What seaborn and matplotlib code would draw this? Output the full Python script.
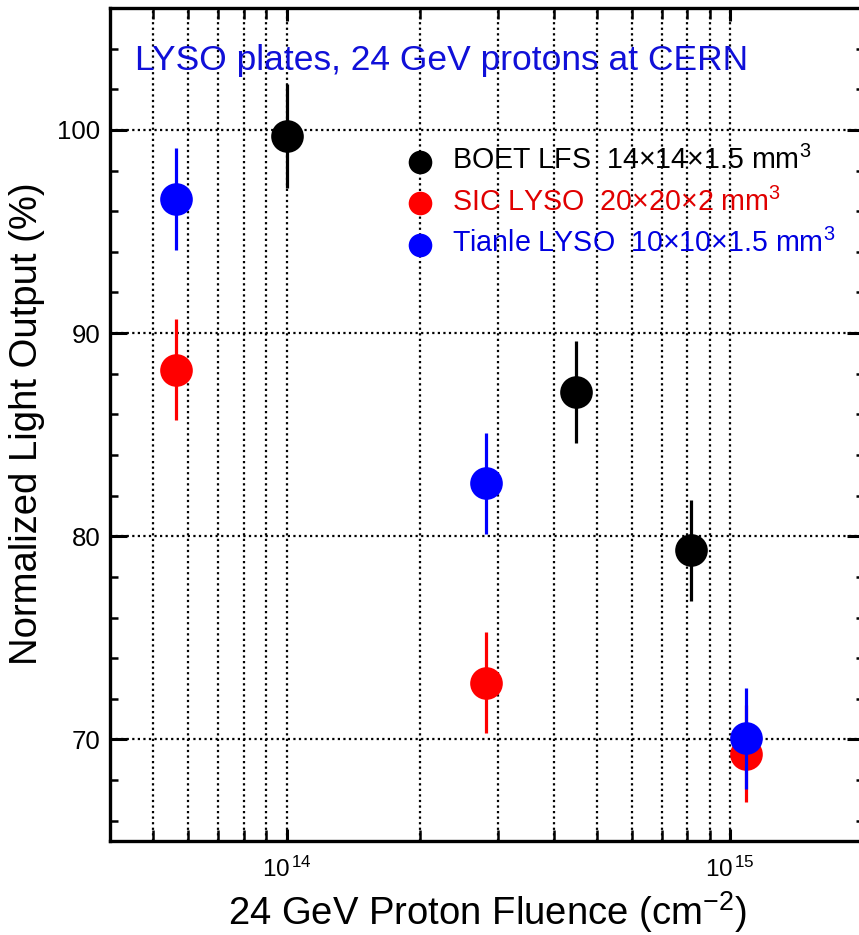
import matplotlib
matplotlib.use("Agg")
import matplotlib.pyplot as plt
import matplotlib.ticker as mticker
import seaborn as sns
import numpy as np

# ---------------- data ----------------
boet_x = [1.0e14, 4.48e14, 8.14e14]
boet_y = [99.7, 87.1, 79.3]
boet_err = [2.55, 2.5, 2.5]

sic_x = [5.64e13, 2.82e14, 1.085e15]
sic_y = [88.2, 72.8, 69.3]
sic_err = [2.5, 2.5, 2.4]

tianle_x = [5.64e13, 2.82e14, 1.085e15]
tianle_y = [96.6, 82.6, 70.05]
tianle_err = [2.5, 2.5, 2.5]

series_labels = ["BOET LFS  14×14×1.5 mm$^3$",
                 "SIC LYSO  20×20×2 mm$^3$",
                 "Tianle LYSO  10×10×1.5 mm$^3$"]
series_colors = ["#000000", "#ff0000", "#0000ff"]
text_colors = ["#000000", "#e00000", "#0000e0"]

title_text = "LYSO plates, 24 GeV protons at CERN"
xlabel = "24 GeV Proton Fluence (cm$^{-2}$)"
ylabel = "Normalized Light Output (%)"

# ---------------- style ----------------
sns.set_style("ticks")
plt.rcParams["font.family"] = ["Liberation Sans", "DejaVu Sans"]
plt.rcParams["mathtext.fontset"] = "custom"
plt.rcParams["mathtext.rm"] = "Liberation Sans"
plt.rcParams["mathtext.it"] = "Liberation Sans:italic"
plt.rcParams["mathtext.bf"] = "Liberation Sans:bold"
plt.rcParams["text.color"] = "black"
plt.rcParams["axes.labelcolor"] = "black"
plt.rcParams["xtick.color"] = "black"
plt.rcParams["ytick.color"] = "black"

fig = plt.figure(figsize=(8.59, 9.35), dpi=100)
ax = fig.add_axes([110/859, 94/935, 754/859, 833/935])

series = [(boet_x, boet_y, boet_err), (sic_x, sic_y, sic_err), (tianle_x, tianle_y, tianle_err)]
z = 3
for (xs, ys, es), lab, col in zip(series, series_labels, series_colors):
    ax.errorbar(xs, ys, yerr=es, fmt="none", ecolor=col, elinewidth=2.3, capsize=0, zorder=z)
    sns.scatterplot(x=xs, y=ys, color=col, s=23.5**2, linewidth=0, edgecolor=col,
                    ax=ax, zorder=z + 1, label=lab)
    z += 2

ax.set_xscale("log")
ax.set_xlim(4e13, 2e15)
ax.set_ylim(65, 106)

ax.xaxis.set_major_locator(mticker.LogLocator(base=10, numticks=10))
ax.xaxis.set_minor_locator(mticker.LogLocator(base=10, subs=np.arange(2, 10), numticks=20))
ax.xaxis.set_minor_formatter(mticker.NullFormatter())
ax.xaxis.set_major_formatter(mticker.FuncFormatter(lambda v, p: r"10$^{\,%d}$" % round(np.log10(v))))
ax.yaxis.set_major_locator(mticker.MultipleLocator(10))
ax.yaxis.set_minor_locator(mticker.MultipleLocator(2))

ax.grid(True, which="both", axis="x", color="black", linestyle=(0, (1, 1.5)), linewidth=1.6)
ax.grid(True, which="major", axis="y", color="black", linestyle=(0, (1, 1.5)), linewidth=1.6)

ax.tick_params(axis="both", which="both", direction="in", top=True, right=True,
               colors="black", labelcolor="black")
ax.tick_params(axis="y", which="major", length=12, width=2.2, labelsize=18.5, pad=7)
ax.tick_params(axis="y", which="minor", length=6, width=1.8)
ax.tick_params(axis="x", which="major", length=9, width=2.2, labelsize=17.5, pad=11)
ax.tick_params(axis="x", which="minor", length=8, width=1.8)

for sp in ax.spines.values():
    sp.set_visible(True)
    sp.set_linewidth(2.4)
    sp.set_color("black")

ax.set_xlabel("")
ax.set_ylabel("")
fig.text(487/859, 1 - 925/935, xlabel, ha="center", va="baseline", fontsize=27.5, color="black")
fig.text(27/859, 1 - 424/935, ylabel, ha="center", va="center", rotation=90,
         fontsize=27.5, color="black")

ax.text((135-110)/754, (841-70)/833, title_text, transform=ax.transAxes,
        ha="left", va="baseline", fontsize=25.5, color="#1010d8")

leg = ax.legend(loc="upper left", bbox_to_anchor=((406-110)/754, (841-146)/833),
                frameon=False, fontsize=20.6, markerscale=17/23.5, handlelength=1.0,
                handletextpad=0.6, borderpad=0, borderaxespad=0, labelspacing=0.43,
                scatterpoints=1)
for t, c in zip(leg.get_texts(), text_colors):
    t.set_color(c)

fig.savefig("out.png", dpi=100)
